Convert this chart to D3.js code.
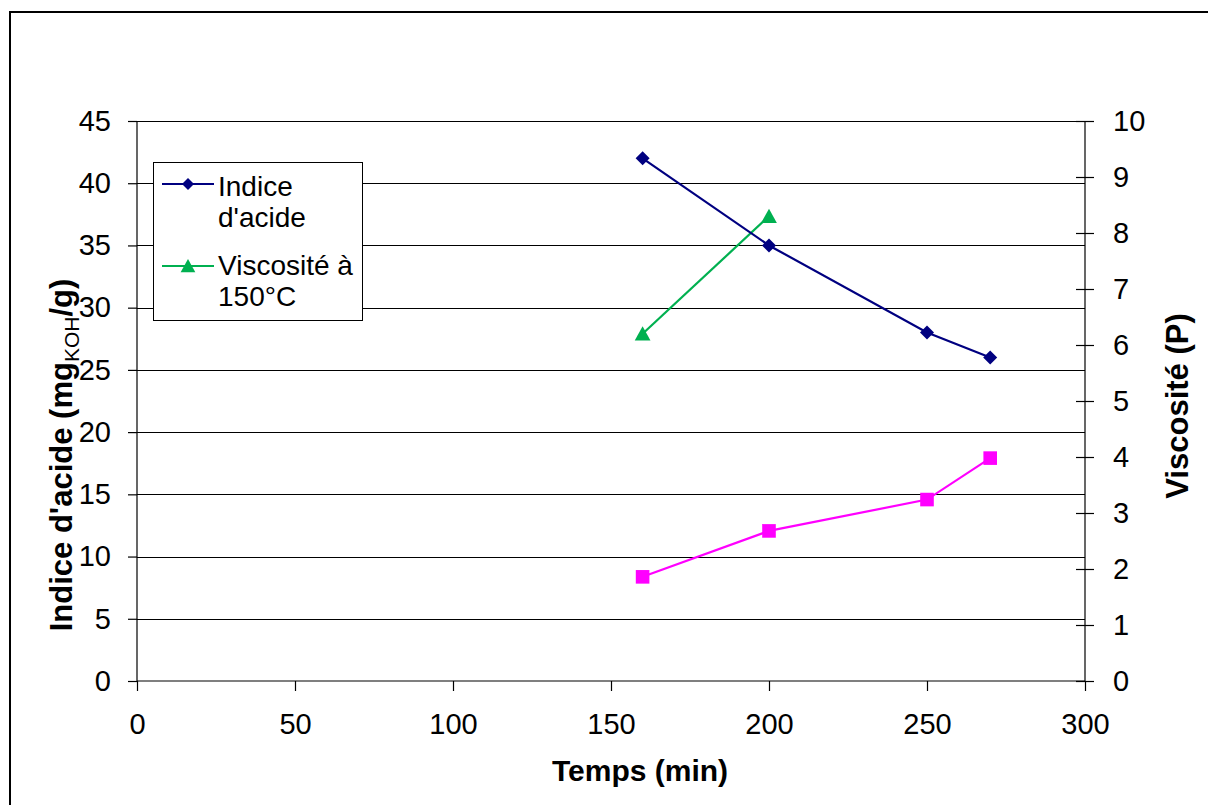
<!DOCTYPE html>
<html>
<head>
<meta charset="utf-8">
<script src="https://cdn.jsdelivr.net/npm/d3@7"></script>
<style>
  body { margin: 0; background: #fff; }
  text { font-family: "Liberation Sans", Arial, sans-serif; fill: #000; }
</style>
</head>
<body>
<div id="chart"></div>
<script>
// data
let temps = [160, 200, 250, 270];
let indiceAcide = [42, 35, 28, 26];          // left axis
let viscosite150 = [6.2, 8.3];               // right axis
let tempsVisc150 = [160, 200];
let viscositeAutre = [1.86, 2.68, 3.24, 3.98]; // right axis, no legend entry

let xTicks = [0, 50, 100, 150, 200, 250, 300];
let yLeftTicks = [0, 5, 10, 15, 20, 25, 30, 35, 40, 45];
let yRightTicks = [0, 1, 2, 3, 4, 5, 6, 7, 8, 9, 10];

let width = 1208, height = 805;
let plot = {left: 137, right: 1085, top: 121, bottom: 681};

let xScale = d3.scaleLinear().domain([0, 300]).range([plot.left, plot.right]);
let yLeft = d3.scaleLinear().domain([0, 45]).range([plot.bottom, plot.top]);
let yRight = d3.scaleLinear().domain([0, 10]).range([plot.bottom, plot.top]);

let svg = d3.select("#chart").append("svg")
  .attr("width", width)
  .attr("height", height);

// chart area border
svg.append("rect")
  .attr("x", 10).attr("y", 12)
  .attr("width", 1400).attr("height", 1000)
  .attr("fill", "none")
  .attr("stroke", "#000")
  .attr("stroke-width", 2);

// gridlines on left axis values
svg.append("g").selectAll("line")
  .data(yLeftTicks.filter(d => d > 0))
  .enter().append("line")
  .attr("x1", plot.left).attr("x2", plot.right)
  .attr("y1", d => Math.round(yLeft(d)) + 0.5)
  .attr("y2", d => Math.round(yLeft(d)) + 0.5)
  .attr("stroke", "#000")
  .attr("stroke-width", 1);

// left axis
let leftAxis = d3.axisLeft(yLeft).tickValues(yLeftTicks).tickSize(9).tickPadding(17);
let gl = svg.append("g").attr("transform", "translate(" + plot.left + ",0)").call(leftAxis);

// bottom axis
let bottomAxis = d3.axisBottom(xScale).tickValues(xTicks).tickSize(10).tickPadding(22);
let gb = svg.append("g").attr("transform", "translate(0," + plot.bottom + ")").call(bottomAxis);

// right axis (ticks cross the line)
let rightAxis = d3.axisRight(yRight).tickValues(yRightTicks).tickSize(9).tickPadding(19);
let gr = svg.append("g").attr("transform", "translate(" + plot.right + ",0)").call(rightAxis);
gr.selectAll(".tick line").attr("x1", -9);

[gl, gb, gr].forEach(function(g) {
  g.select(".domain").attr("stroke", "#000").attr("stroke-width", 1.2);
  g.selectAll(".tick line").attr("stroke", "#000").attr("stroke-width", 1.2);
  g.selectAll(".tick text")
    .style("font-family", "'Liberation Sans', Arial, sans-serif")
    .style("font-size", "29px")
    .attr("fill", "#000");
});
gl.select(".domain").attr("d", "M0," + plot.bottom + "V" + plot.top);
gr.select(".domain").attr("d", "M0," + plot.bottom + "V" + plot.top);
gb.select(".domain").attr("d", "M" + plot.left + ",0H" + plot.right);

// marker shapes
function markerPath(type, s) {
  if (type === "diamond")
    return "M0," + (-s) + "L" + s + ",0L0," + s + "L" + (-s) + ",0Z";
  if (type === "triangle")
    return "M0," + (-s) + "L" + (s * 1.05) + "," + (s * 0.9) + "L" + (-s * 1.05) + "," + (s * 0.9) + "Z";
  return "M" + (-s) + "," + (-s) + "H" + s + "V" + s + "H" + (-s) + "Z";
}

function drawSeries(xs, ys, yScale, color, type, size) {
  let pts = xs.map((x, i) => [xScale(x), yScale(ys[i])]);
  svg.append("path")
    .attr("d", d3.line()(pts))
    .attr("fill", "none")
    .attr("stroke", color)
    .attr("stroke-width", 2.2);
  svg.append("g").selectAll("path")
    .data(pts)
    .enter().append("path")
    .attr("transform", d => "translate(" + d[0] + "," + d[1] + ")")
    .attr("d", markerPath(type, size))
    .attr("fill", color);
}

drawSeries(temps, viscositeAutre, yRight, "#ff00ff", "square", 6.8);
drawSeries(tempsVisc150, viscosite150, yRight, "#00b050", "triangle", 7.5);
drawSeries(temps, indiceAcide, yLeft, "#000080", "diamond", 7);

// axis titles
svg.append("text")
  .attr("x", 640).attr("y", 781)
  .attr("text-anchor", "middle")
  .style("font-size", "30px").style("font-weight", "bold")
  .text("Temps (min)");

let lt = svg.append("text")
  .attr("transform", "translate(72,455) rotate(-90)")
  .attr("text-anchor", "middle")
  .style("font-size", "31px").style("font-weight", "bold");
lt.append("tspan").text("Indice d'acide (mg");
lt.append("tspan").attr("dy", 7).style("font-size", "21px").style("font-weight", "normal").text("KOH");
lt.append("tspan").attr("dy", -7).text("/g)");

svg.append("text")
  .attr("transform", "translate(1188,406) rotate(-90)")
  .attr("text-anchor", "middle")
  .style("font-size", "31px").style("font-weight", "bold")
  .text("Viscosité (P)");

// legend
let legend = svg.append("g");
legend.append("rect")
  .attr("x", 153.5).attr("y", 162.5)
  .attr("width", 209).attr("height", 158)
  .attr("fill", "#fff")
  .attr("stroke", "#000")
  .attr("stroke-width", 1);

let legendItems = [
  {lines: ["Indice", "d'acide"], color: "#000080", type: "diamond", size: 6, y: 184, base: 196},
  {lines: ["Viscosité à", "150°C"], color: "#00b050", type: "triangle", size: 7, y: 266, base: 275}
];
legendItems.forEach(function(it) {
  legend.append("line")
    .attr("x1", 162).attr("x2", 214)
    .attr("y1", it.y).attr("y2", it.y)
    .attr("stroke", it.color).attr("stroke-width", 2.2);
  legend.append("path")
    .attr("transform", "translate(188," + it.y + ")")
    .attr("d", markerPath(it.type, it.size))
    .attr("fill", it.color);
  it.lines.forEach(function(l, i) {
    legend.append("text")
      .attr("x", 218).attr("y", it.base + i * 31)
      .style("font-size", "28px")
      .text(l);
  });
});
</script>
</body>
</html>
